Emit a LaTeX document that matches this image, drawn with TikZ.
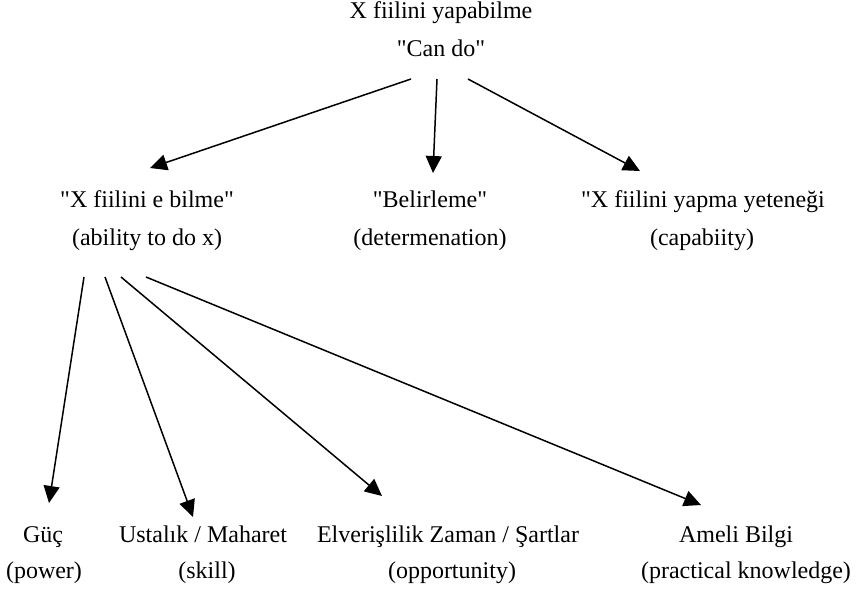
\documentclass[tikz,border=0pt]{standalone}
\usepackage{fontspec}
\setmainfont{Liberation Serif}[Ligatures=TeXOff]
\usetikzlibrary{arrows.meta,calc}
\tikzset{
  lbl/.style={anchor=base,inner sep=0pt,font=\fontsize{12}{14}\selectfont},
  arr/.style={line width=0.75pt,-{Triangle[length=8.5pt,width=8pt]}}
}
\begin{document}
\begin{tikzpicture}[x=0.5pt,y=-0.5pt]
\path[use as bounding box,fill=white] (0,0) rectangle (858,595);
% top
\node[lbl] (top1) at (441,18) {X fiilini yapabilme};
\node[lbl] (top2) at (441,56) {"Can do"};
% middle
\node[lbl] (abil1) at (147,207) {"X fiilini e bilme"};
\node[lbl] (abil2) at (147,245) {(ability to do x)};
\node[lbl] (bel1) at (430,207) {"Belirleme"};
\node[lbl] (bel2) at (430,245) {(determenation)};
\node[lbl] (cap1) at (703,207) {"X fiilini yapma yeteneği};
\node[lbl] (cap2) at (702,245) {(capabiity)};
% bottom
\node[lbl] (guc1) at (43,542) {Güç};
\node[lbl] (guc2) at (44,578) {(power)};
\node[lbl] (ust1) at (203,542) {Ustalık / Maharet};
\node[lbl] (ust2) at (207,578) {(skill)};
\node[lbl] (elv1) at (448,542) {Elverişlilik Zaman / Şartlar};
\node[lbl] (elv2) at (452,578) {(opportunity)};
\node[lbl] (ame1) at (736,542) {Ameli Bilgi};
\node[lbl] (ame2) at (746,578) {(practical knowledge)};
% arrows from top
\draw[arr] ($(top2.base)+(-30,23)$) -- ($(abil1.base)+(3,-39)$);
\draw[arr] ($(top2.base)+(-4,23)$) -- ($(bel1.base)+(3,-34)$);
\draw[arr] ($(top2.base)+(27,23)$) -- ($(cap1.base)+(-63,-36)$);
% arrows from ability
\draw[arr] ($(abil2.base)+(-63,32)$) -- ($(guc1.base)+(6,-39)$);
\draw[arr] ($(abil2.base)+(-42,32)$) -- ($(ust1.base)+(-10,-25)$);
\draw[arr] ($(abil2.base)+(-26,32)$) -- ($(elv1.base)+(-66,-46)$);
\draw[arr] ($(abil2.base)+(-1,32)$) -- ($(ame1.base)+(-35,-37)$);
\end{tikzpicture}
\end{document}
